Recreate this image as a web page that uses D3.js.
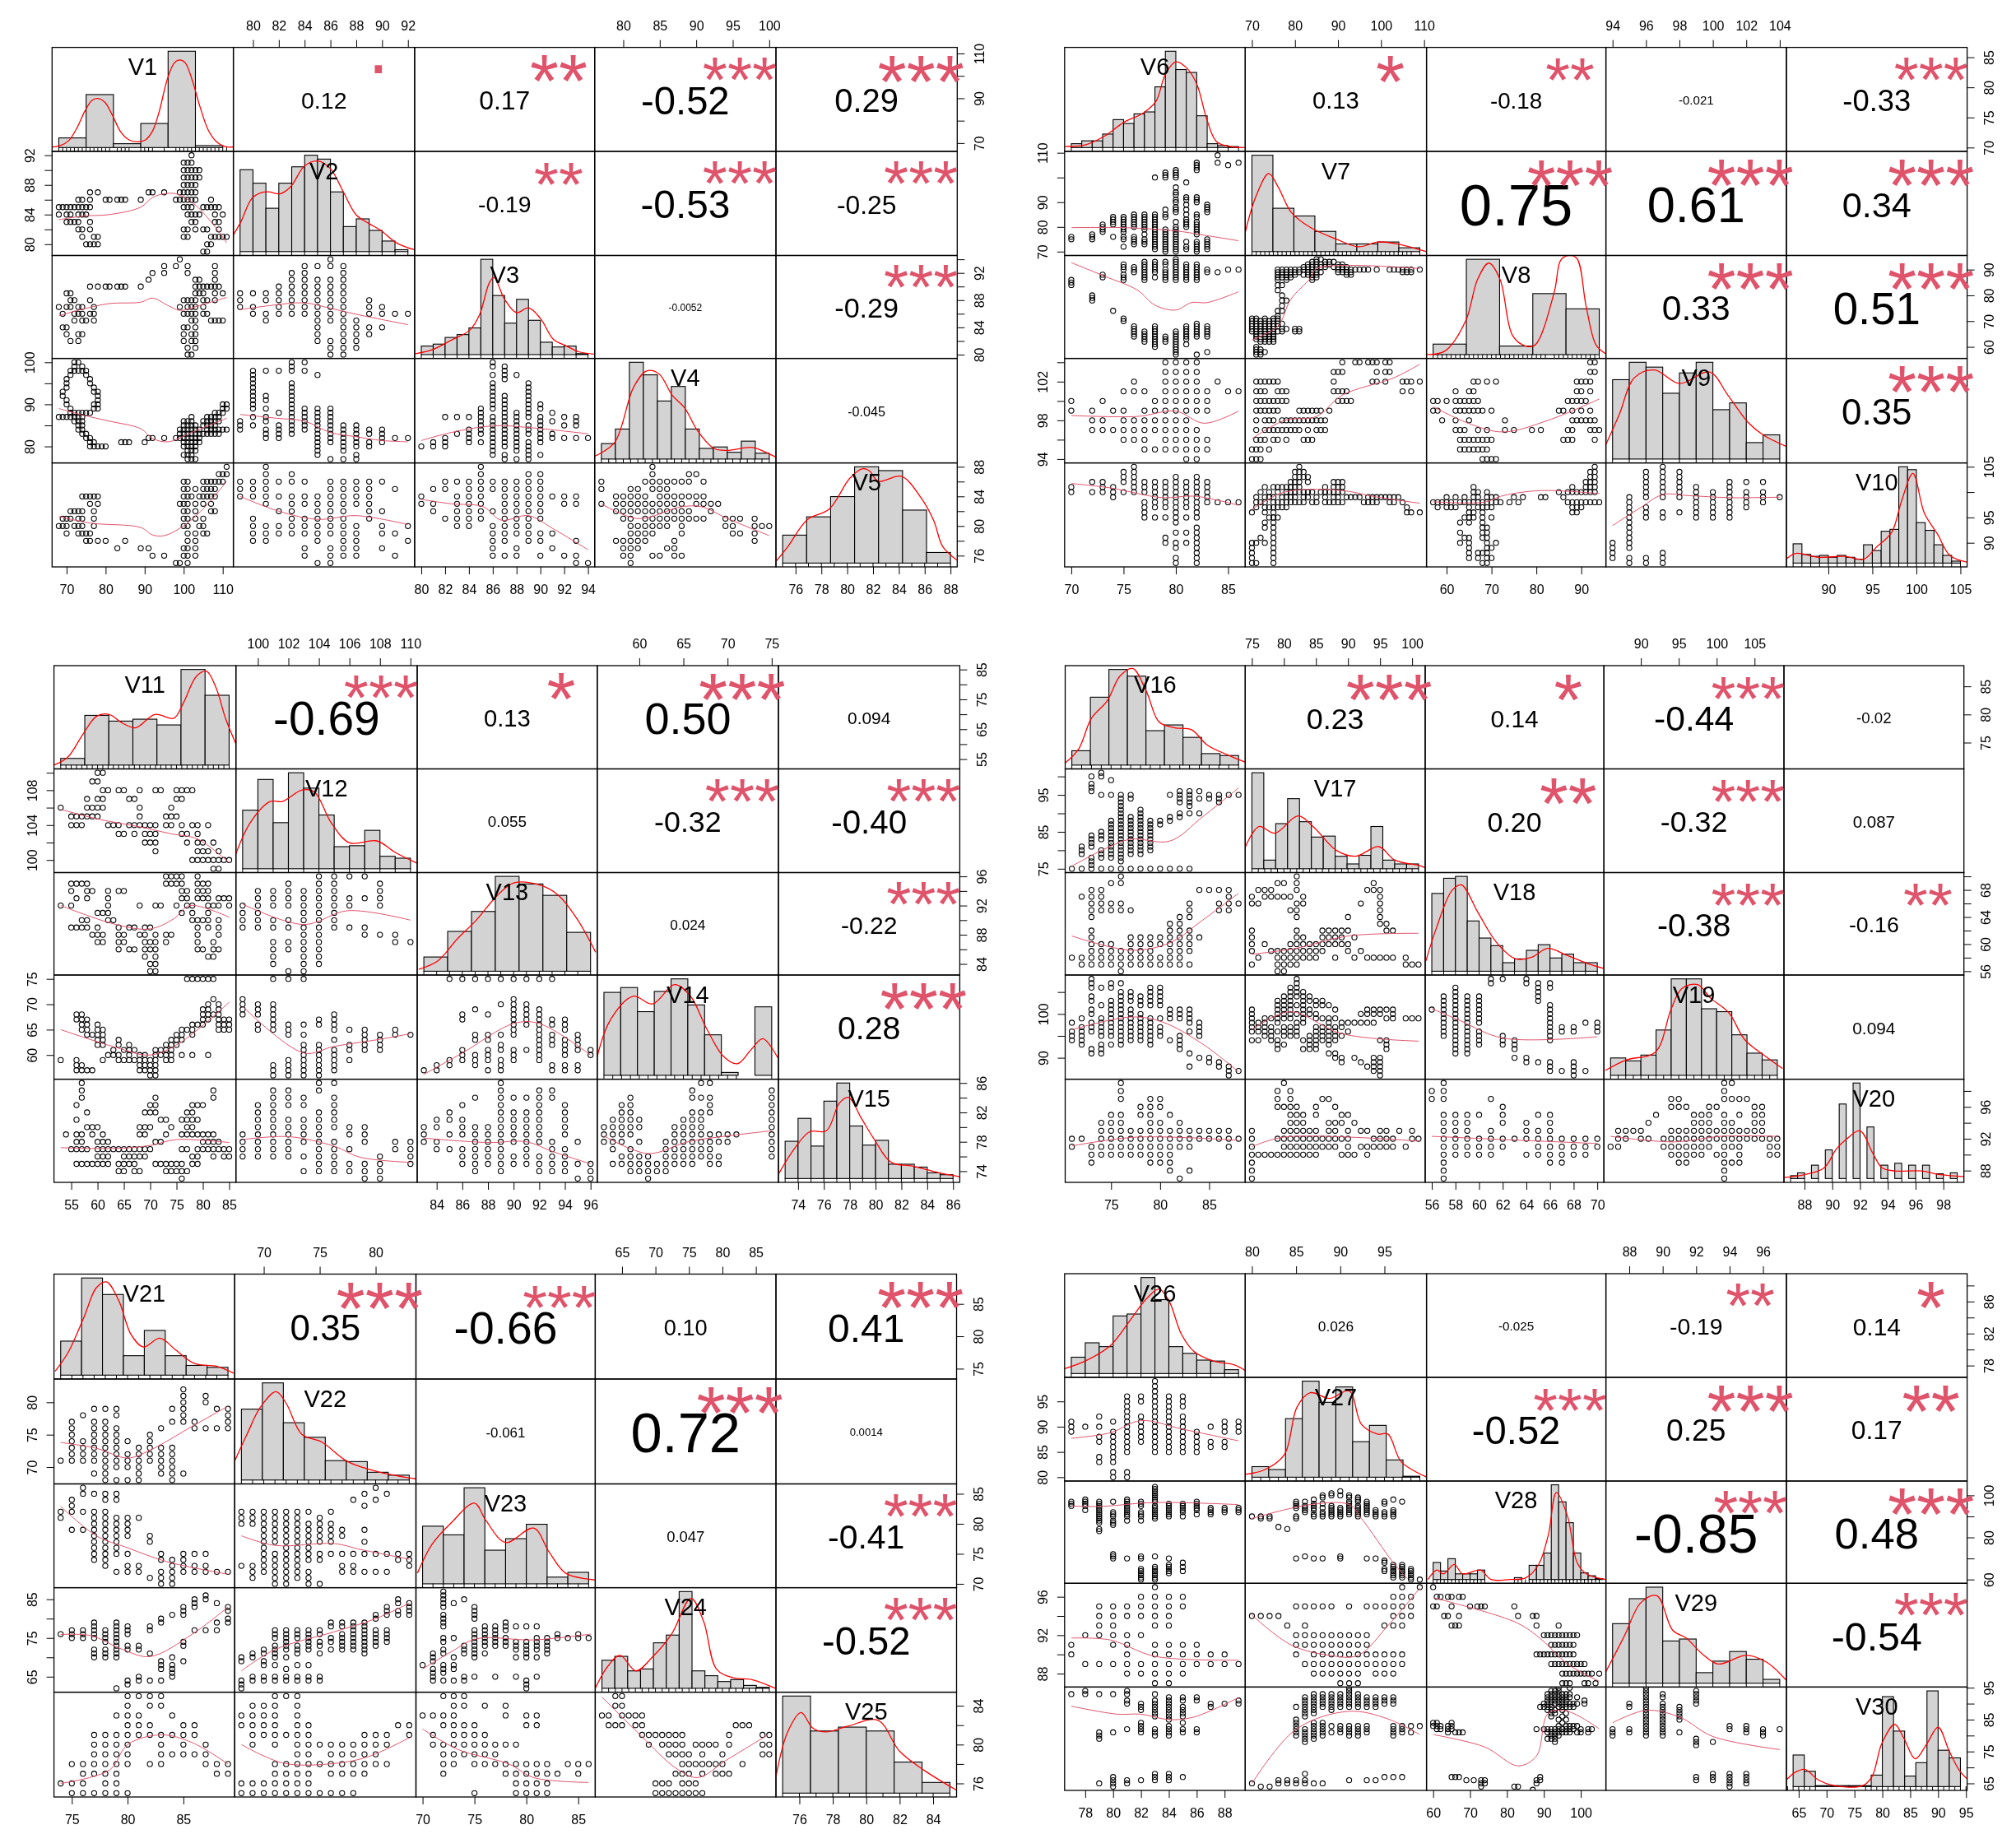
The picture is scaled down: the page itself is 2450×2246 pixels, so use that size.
<!DOCTYPE html>
<html><head><meta charset="utf-8">
<script src="https://cdnjs.cloudflare.com/ajax/libs/d3/7.8.5/d3.min.js"></script>
<style>html,body{margin:0;background:#fff}svg{display:block;filter:blur(.4px)}text{font-family:"Liberation Sans",Arial,sans-serif;fill:#000}</style>
</head><body><svg id="c" width="2450" height="2246"></svg>
<script>
function R(a){const o=[];a.forEach(r=>r.slice(1).forEach(x=>o.push([x,r[0]])));return o}
function C(a){const o=[];a.forEach(r=>r.slice(1).forEach(y=>o.push([r[0],y])));return o}
var panelXs=[[63.3,283.6,503.9,722.7,943,1163.3],[1293.8,1513.3,1733.6,1951.6,2171,2390.6],[65.6,286.7,507,725.8,946,1166.4],[1294.5,1513.3,1732,1949.2,2168,2386.7],[65.6,285.2,505.5,723.4,943,1162.5],[1293.8,1513.3,1733.6,1951.6,2171,2390.6]];
var panelYs=[[57.6,184,310.5,435.6,562.6,689],[57.6,184,310.5,435.6,562.6,689],[809,934.5,1060.5,1185,1311.6,1437],[809,934.5,1060.5,1185,1311.6,1437],[1548.5,1676,1803.5,1929.6,2056.6,2184],[1548,1674,1800,1924.3,2050.4,2176]];
var rangesV=[[68,111],[79,92],[80,94],[77,100],[75,88],[70,86],[70,109],[57,94],[94,104],[86,105],[53,85],[99,110],[83,96],[56,75],[73,86],[71,88],[75,101],[56,70],[86,108],[87,99],[74,89],[68,83],[70,86],[62,87],[75,85],[77,89],[80,99],[60,105],[87,97],[64,94]];
var ticksV1=[70,80,90,100,110],labelsV1=[70,90,110],ticksV2=[80,82,84,86,88,90,92],labelsV2=[80,84,88,92],ticksV3=[80,82,84,86,88,90,92,94],labelsV3=[80,84,88,92],ticksV4=[80,85,90,95,100],labelsV4=[80,90,100],ticksV5=[76,78,80,82,84,86,88],labelsV5=[76,80,84,88];
var ticksV6=[70,75,80,85],labelsV6=[70,75,80,85],ticksV7=[70,80,90,100,110],labelsV7=[70,80,90,110],ticksV8=[60,70,80,90],labelsV8=[60,70,80,90],ticksV9=[94,96,98,100,102,104],labelsV9=[94,98,102],ticksV10=[90,95,100,105],labelsV10=[90,95,105];
var ticksV11=[55,60,65,70,75,80,85],labelsV11=[55,65,75,85],ticksV12=[100,102,104,106,108,110],labelsV12=[100,104,108],ticksV13=[84,86,88,90,92,94,96],labelsV13=[84,88,92,96],ticksV14=[60,65,70,75],labelsV14=[60,65,70,75],ticksV15=[74,76,78,80,82,84,86],labelsV15=[74,78,82,86];
var ticksV16=[75,80,85],labelsV16=[75,80,85],ticksV17=[75,80,85,90,95,100],labelsV17=[75,85,95],ticksV18=[56,58,60,62,64,66,68,70],labelsV18=[56,60,64,68],ticksV19=[90,95,100,105],labelsV19=[90,100],ticksV20=[88,90,92,94,96,98],labelsV20=[88,92,96];
var ticksV21=[75,80,85],labelsV21=[75,80,85],ticksV22=[70,75,80],labelsV22=[70,75,80],ticksV23=[70,75,80,85],labelsV23=[70,75,80,85],ticksV24=[65,70,75,80,85],labelsV24=[65,75,85],ticksV25=[76,78,80,82,84],labelsV25=[76,80,84];
var ticksV26=[78,80,82,84,86,88],labelsV26=[78,82,86],ticksV27=[80,85,90,95],labelsV27=[80,85,90,95],ticksV28=[60,70,80,90,100],labelsV28=[60,80,100],ticksV29=[88,90,92,94,96],labelsV29=[88,92,96],ticksV30=[65,70,75,80,85,90,95],labelsV30=[65,75,85,95];
var histStart=[68,79,80,77,75,70,70,57,94,86,53,99,83,56,73,71,75,56,86,87,74,68,70,62,75,77,80,60,87,64];
var histStep=[7,1,1,1.917,1.857,1,4.875,7.4,1,1,4.57,1,1.857,1.9,1,1.889,1.857,1,2,.5,1.875,1.875,2,1.923,1.667,1,1.9,2,1,2];
var histV1=[10,55,4,25,100,2],histV2=[85,71,45,71,88,100,96,62,26,34,22,11,2],histV3=[9,11,18,21,28,100,62,33,58,36,13,8,9,1],histV4=[16,31,100,87,60,75,31,11,12.5,7,18.5,6],histV5=[29,48,69,100,96,55,11];
var histV6=[4,7,7,14,29,25,35,37,63,100,81,78,33,4,2,1],histV7=[100,45,37,21,8,8,10,4],histV8=[11,100,9,64,48],histV9=[82,100,95,68,89,100,51,58,17,25],histV10=[20,9,7,8,6,8,6,4,19,13,33,35,100,97,42,34,19,8,2];
var histV11=[7,52,46,48,42,100,73],histV12=[61,93,48,100,84,56,23,24,40,13,11],histV13=[15,42,63,100,92,80,41],histV14=[86,91,66,87,100,73,42,3,0,71],histV15=[39,63,34,81,100,55,35,40,15,15,12,6,4];
var histV16=[15,71,100,93,36,42,29,12,10],histV17=[100,9,47,73,49,33,34,13,5,14,44,9,5,5],histV18=[82,98,100,53,35,27,9,13,22,28,14,18,9,9],histV19=[18,15,21,47,100,100,69,66,42,23,16],histV20=[3,6,0,14,0,30,0,78,0,100,0,54,0,14,0,16,0,14,0,14,0,5,0,6];
var histV21=[35,100,83,20,46,20,10,8],histV22=[73,100,59,44,20,19,8,5],histV23=[60,51,100,35,47,62,7,12],histV24=[29,33,18,20,47,55,100,18,13,7,9,3,1],histV25=[100,64,68,64,32,11];
var histV26=[17,32,28,60,62,100,77,28,21,14,13,4],histV27=[11,8,61,100,78,94,37,54,18,1],histV28=[18,9,22,6,6,6,10,0,0,0,0,2,0,15,15,28,100,82,60,28,7,4,1],histV29=[62,88,100,44,46,11,23,33,25,4],histV30=[33,16,1,1,1,1,1,12,94,58,11,25,100,38,30];
var densV1=[[66.3,.5],[68.4,2],[70.5,7],[72.6,20],[74.7,38],[76.5,49],[78,51],[79.8,47],[81.8,33],[83.9,16],[86,8],[88,6],[90.2,8],[92,17],[93.7,37],[95.8,71],[97.6,88],[99,91],[100.4,88],[102.1,71],[104.2,42],[106.3,18],[108.4,6],[110.5,1],[112.7,.5]];
var densV2=[[78.47,17],[79.1,32],[79.9,55],[80.6,61],[81.2,62],[82.1,60],[82.9,67],[84,89],[85,94],[86,86],[87,62],[88,38],[89,29],[89.9,22],[91,10],[91.9,4.5],[92.5,2]];
var densV3=[[79.5,1],[80.9,5],[82.5,15],[84.1,26],[84.9,42],[85.7,75],[86.1,81],[87,58],[88,44],[89,49],[90,38],[91.1,16],[92.2,9],[93.2,3],[94.5,.5]];
var densV4=[[76.1,3],[78.8,17],[81.4,74],[83.2,91],[84.9,88],[86.7,66],[88.4,53],[90.2,29],[92.4,11],[94.2,9],[97.7,12],[99.5,7],[100.9,2]];
var densV5=[[74.5,2],[75.4,17],[76.9,45],[78.6,56],[80.2,88],[81.2,98],[81.7,96],[82.4,85],[84.2,90],[85.7,68],[86.7,44],[87.4,17],[88.5,3]];
var densV6=[[69.4,1],[71.4,3],[73.2,12],[75,26],[76.9,36],[78.1,48],[79,76],[80,89],[81.1,82],[82,66],[83,28],[83.9,6],[85.2,1],[86.6,0]];
var densV7=[[68.5,21],[70.9,57],[73.9,81],[76.1,67],[79.1,41],[83.6,25],[89.6,13],[94.8,5],[99.3,10],[103.7,8],[110.5,0]];
var densV8=[[55.6,0],[59.7,4],[64.3,36],[66.9,79],[69.4,96],[71.9,79],[74.7,20],[77.6,9],[79.7,10],[84,66],[85.4,99],[87.1,104],[89,101],[91.1,50],[93.3,10],[95.4,1]];
var densV9=[[93.6,15],[94.4,46],[95.3,84],[96.5,92],[98,78],[99.8,90],[100.9,66],[102.1,38],[103,25],[104.4,13]];
var densV10=[[85.2,4],[86.3,10],[88.8,6],[91.8,7],[94,4],[95.4,16],[97.2,32],[98.3,64],[99.6,93],[100.9,52],[102.4,30],[103.8,8],[105.7,1]];
var densV11=[[51.7,0],[54.3,8],[57.3,33],[59.8,51],[62.2,53],[64.7,44],[67.2,39],[70.9,53],[74.5,49],[76.3,65],[78.8,93],[80.7,98],[82.5,81],[84.3,49],[86.3,22]];
var densV12=[[98.5,13],[99.5,48],[100.8,70],[101.6,70],[102.9,82],[103.7,80],[104.8,48],[106,27],[107.8,29],[109,17],[110.4,6]];
var densV13=[[82.6,2],[84.1,11],[85.6,34],[87.1,54],[88.6,78],[90,93],[92,91],[93.5,80],[95,54],[96.4,20]];
var densV14=[[55.2,18],[56.7,57],[59.3,82],[61.5,74],[64,94],[65.8,82],[67.6,49],[69.5,20],[71.1,12],[72.7,27],[74,38],[75.7,18]];
var densV15=[[72.5,5],[73.7,31],[74.9,49],[76.2,50],[77.2,79],[77.9,85],[78.9,63],[79.9,41],[81.2,17],[82.9,13],[84.9,6],[86.5,2]];
var densV16=[[70.3,2],[71.7,17],[73,49],[74.6,67],[75.9,93],[77.2,101],[78.6,77],[79.9,45],[81.5,39],[83.2,37],[84.8,21],[86.8,11],[88.7,3]];
var densV17=[[74,23],[76.1,44],[78.6,37],[82.2,55],[84.7,43],[88.2,19],[91.2,13],[94.8,23],[97.3,9],[101.3,3],[102,1]];
var densV18=[[55.5,11],[56.4,46],[57.7,85],[58.5,91],[59.9,62],[61.5,30],[63.1,13],[64.5,15],[65.8,24],[67.4,17],[69,9],[70.5,3]];
var densV19=[[85.3,5],[88.1,16],[91.9,24],[94,69],[95.4,90],[97.5,94],[99.2,80],[101.6,65],[103.7,37],[106.4,20],[108.7,7]];
var densV20=[[86.5,1],[88,4],[89.4,11],[90.3,31],[91,41],[92,50],[92.9,27],[93.6,11],[94.5,8],[96.4,8],[97.8,4],[99.5,2]];
var densV21=[[73.5,4],[74.7,24],[76.1,60],[77.2,90],[78.1,96],[79.2,77],[80.3,42],[81.4,29],[82.9,38],[84.3,26],[86,12],[88,9],[89.5,2]];
var densV22=[[67.3,17],[68.5,47],[69.7,75],[71.1,91],[72,79],[73.4,47],[75.2,39],[77.5,19],[80.4,8],[83.7,1]];
var densV23=[[69.5,11],[70.9,41],[72.8,64],[75,84],[76.1,66],[78,43],[80.7,58],[82.2,33],[83.8,11],[86.6,4]];
var densV24=[[61,0],[62.8,22],[64.7,34],[67.1,18],[69.5,32],[72.4,56],[75.3,93],[77.2,69],[79.1,20],[81.5,11],[84.4,9],[87.9,0]];
var densV25=[[74.6,17],[75.3,63],[76.1,83],[76.8,67],[77.6,63],[78.9,69],[80.7,75],[82,43],[83.5,23],[85.4,3]];
var densV26=[[76.5,5],[78,13],[79.8,29],[81.2,55],[82.4,78],[83.3,88],[84,76],[84.9,41],[85.8,23],[87.2,13],[88.7,9],[89.5,3]];
var densV27=[[79.2,3],[81.5,8],[83.7,24],[85.1,73],[86.6,88],[88.8,82],[91,90],[92.4,55],[94.2,45],[95.4,45],[96.9,16],[99.8,0]];
var densV28=[[58.6,0],[61,10],[62.8,6],[65.7,16],[68,6],[72.8,10],[75.7,0],[80.9,0],[85.2,2],[88.6,16],[91.2,47],[93.4,92],[96.4,67],[99,18],[101.5,6],[106.7,0]];
var densV29=[[86.6,12],[87.7,49],[88.7,84],[89.65,91],[90.6,55],[91.4,47],[92.4,30],[93.3,20],[95,29],[96.2,22],[97.4,3]];
var densV30=[[62.8,7],[64.4,15],[66.1,18],[68.5,7],[71.3,1],[76.5,1],[78.2,11],[79.9,45],[82.2,65],[83.9,50],[85.9,29],[88,45],[90,62],[92,37],[93.8,17],[95.2,8]];
var corrPanel1=["0.12","0.17","-0.52","0.29","-0.19","-0.53","-0.25","-0.0052","-0.29","-0.045"],starsPanel1=[".","**","***","***","**","***","***","","***",""];
var corrPanel2=["0.13","-0.18","-0.021","-0.33","0.75","0.61","0.34","0.33","0.51","0.35"],starsPanel2=["*","**","","***","***","***","***","***","***","***"];
var corrPanel3=["-0.69","0.13","0.50","0.094","0.055","-0.32","-0.40","0.024","-0.22","0.28"],starsPanel3=["***","*","***","","","***","***","","***","***"];
var corrPanel4=["0.23","0.14","-0.44","-0.02","0.20","-0.32","0.087","-0.38","-0.16","0.094"],starsPanel4=["***","*","***","","**","***","","***","**",""];
var corrPanel5=["0.35","-0.66","0.10","0.41","-0.061","0.72","0.0014","0.047","-0.41","-0.52"],starsPanel5=["***","***","","***","","***","","","***","***"];
var corrPanel6=["0.026","-0.025","-0.19","0.14","-0.52","0.25","0.17","-0.85","0.48","-0.54"],starsPanel6=["","","**","*","***","***","**","***","***","***"];
// panel 1 scatter
var ptsV2V1=R([[92,102],[91,100,101,102],[90,100,101,102,103,104],[89,100,101,102,103,104],[88,100,101,102,103],[87,76,78,91,92,95,99,100,101,102,103],[86,73,74,76,80,81,83,84,85,89,98,99,100,101,102,103,107],[85,68,69,70,71,72,73,74,75,76,100,101,102,105,106,107,108,109],[84,68,70,71,73,74,75,101,102,103,104,108,110],[83,70,71,72,73,76,102,103,108,109],[82,73,74,76,100,101,103,105,106,109],[81,74,77,78,100,101,107,108,109,110,111],[80,75,76,77,78,106,107],[79,105,106]]);
var ptsV3V1=R([[94,99],[93,95,98,101,108],[92,92,95,101,108],[91,91,103,104,108],[90,76,78,80,81,83,84,85,89,103,104,105,106,107,108,109],[89,70,71,103,104,105,108,110],[88,71,72,76,100,101,102,103,105,106,108],[87,68,70,71,73,74,77,99,101,102,103,105],[86,69,72,73,74,76,77,100,101,102,103,105,106],[85,72,74,75,77,102,103,107,108,109,110],[84,69,70,100,101,103],[83,70,73,74,100,102,103],[82,71,73,100,102,103],[81,101,103],[80,101,102]]);
var ptsV4V1=R([[100,72,73],[99,72,74],[98,71,72,73,74,75],[97,71,75],[96,70,76],[95,70,76],[94,70,77],[93,69,77,78],[92,69,78],[91,70,78],[90,70,77,78,110,111],[89,71,77,78,110,111],[88,71,72,73,74,75,76,108,109,110],[87,68,69,70,71,72,73,74,102,106,107,108,109],[86,72,73,74,100,101,102,105,106,107,108,109],[85,73,74,100,101,102,103,105,106,107,108],[84,73,74,99,100,101,102,103,104,106,107,108,109,110,111],[83,74,75,99,100,101,102,103,104,105,106,107,108,109],[82,75,76,91,92,95,98,99,100,101,102,103,104],[81,76,77,84,85,86,90,100,101,102,103,104],[80,76,77,78,79,80,100,101,102,103],[79,101,102,103],[78,100,101,102],[77,101,102,103]]);
var ptsV5V1=R([[88,111],[87,109,110,111],[86,100,101,105,106,107,108,109,110],[85,100,101,103,105,106,107,108],[84,74,75,76,77,78,100,101,102,104,105,106,107,108],[83,76,78,99,100,101,103,105,107],[82,71,72,73,74,77,100,101,103,107,108],[81,69,70,71,73,74,77,100,101,103,105],[80,68,69,70,72,73,74,77,100,101,104,105],[79,70,73,74,75,76,101,103,105,106],[78,75,76,78,80,85,101,103],[77,83,89,91,100,101,103],[76,92,95,100,101,103],[75,98,99,101]]);
var ptsV3V2=R([[94,86],[93,84,85,86,87],[92,83,84,87],[91,83,84,85,86,87],[90,82,83,84,85,86,87],[89,79,80,81,82,83,84,85,86,87],[88,79,81,82,83,84,85,86,87,89],[87,79,80,82,83,84,85,86,87,89,90],[86,80,81,82,83,84,85,86,87,89,90,91,92],[85,81,85,86,87,88],[84,85,87,88,89,90],[83,85,87,88,89],[82,85,86,87,88],[81,86,87,88],[80,86,87]]);
var ptsV4V2=R([[100,83,84],[99,83],[98,80,81,82,83,84],[97,80,85],[96,80],[95,80,83],[94,80,83],[93,80,83],[92,80,81,83],[91,80,81,83],[90,80,83],[89,80,81,83,84,85,86],[88,82,83,84,85,86],[87,80,81,83,84,85,86],[86,79,81,83,84,85,86],[85,79,80,82,83,84,85,86,87,88],[84,79,81,82,83,84,85,86,87,88,89,90],[83,81,82,83,85,86,87,88,89,90],[82,81,82,85,86,87,88,90,91,92],[81,85,86,87,88,89,90],[80,85,87,88,89],[79,85,87],[78,85,88],[77,86,87,88]]);
var ptsV5V2=R([[88,81],[87,81,83],[86,79,80,81,82,83,84,86,87,88,89,90],[85,79,80,81,86,87,88,89,91],[84,79,80,81,82,83,84,85,86,87,88,89],[83,81,83,84,85,86,87,88,89],[82,82,83,85,86,87,89,90],[81,80,83,84,85,86,87,89],[80,80,81,82,83,84,85,86,87,88,90,92],[79,80,81,82,83,84,85,86,87,88,90,91],[78,80,81,85,87,88,92],[77,84,86,87,88,90],[76,84,86,87,88,91],[75,85,86]]);
var ptsV4V3=R([[100,86],[99,86,87],[98,87],[97,86,87,88],[96,87],[95,86,89],[94,86,89],[93,86,89],[92,86,87,89],[91,86,87,89],[90,86,87,89,90],[89,85,86,87,89,90],[88,85,87,88,89,91],[87,82,83,84,85,86,87,88,89,90,92,93],[86,85,86,87,88,90,91,93],[85,85,86,87,88,89,90,92,93],[84,84,85,86,87,88,89,90],[83,83,84,85,86,87,88,89,90,91],[82,82,84,86,87,88,90,91,92,93,94],[81,81,82,84,85,86,87,88,89,90],[80,80,81,82,86,87,88,89],[79,86,88,89],[78,86,87,89,90],[77,87,88,89]]);
var ptsV5V3=R([[88,85],[87,85,89,90],[86,82,83,84,85,86,87,88,89,90],[85,81,82,84,85,86,87,88,89,90],[84,80,83,84,85,87,88,89,90,91,92,93],[83,80,81,83,84,85,87,88,89,90,92,93],[82,81,83,84,85,86,87,88,89,90],[81,82,83,84,85,87,88,89,90],[80,83,84,86,87,88,89],[79,86,87,88,89,90,91],[78,86,87,89,90,93],[77,86,88,91],[76,86,87,88,90,92,93],[75,93,94]]);
var ptsV5V4=R([[88,84],[87,84,89,90],[86,77,83,84,85,86,87,88,89,91],[85,77,81,82,84,85,86],[84,79,80,81,82,83,85,86,87,88,89,90,91],[83,77,79,80,81,82,83,84,85,86,87,88,90,91,92,93],[82,79,80,81,82,83,84,85,86,87,88,89,92],[81,80,81,83,84,85,86,87,88,89,90,91,94,95,96,98],[80,81,82,83,84,85,86,88,94,95,98,99,100],[79,81,82,83,84,88,95,96,98],[78,79,80,81,82,83,87,98],[77,80,81,82,86,87],[76,80,81,84,85,87,88],[75,81]]);
// panel 2 scatter
var ptsV7V6=C([[70,75,76],[72,75,76,77],[73,78,79,80,81],[74,76,81,82,83,84],[75,72,75,76,78,79,80,81,82,83,84],[76,73,74,75,76,80,81,82,83,84,85],[77,73,74,75,77,79,80,81,82,83,84,85],[78,71,72,73,74,75,76,77,78,79,80,81,82,83,84,85,100],[79,70,71,72,73,74,75,76,77,78,79,84,85,87,100,101,102],[80,70,71,72,73,74,75,76,77,78,79,80,82,86,87,88,90,91,93,94,96,100,101,102,103],[81,71,72,74,80,81,82,83,85,87,89,91,92,98],[82,70,71,72,73,74,77,78,79,80,81,82,84,85,90,91,92,103,104,105,106],[83,71,72,73,74,75,86,87,88,89],[84,109,106],[85,105],[86,106]]);
var ptsV8V6=C([[70,84,85,86],[72,78,79,80],[73,87,88],[74,74],[75,70,71,86,87,88,90,91,92],[76,64,65,66,67,68,89,90,91],[77,62,63,64,65,66,86,87,88,89,90,91,92,93],[78,60,61,62,63,64,65,66,67,68,87,89,90,91,92,93],[79,62,63,64,86,87,88,89,90,92,93],[80,57,58,59,60,61,62,63,64,65,66,86,87,88,89,90,91,92,93,94],[81,61,63,64,65,66,67,68,86,87,88,89,90,91,92],[82,57,64,65,66,67,68,69,86,87,88,89,90,91,92],[83,58,64,65,66,67,68,89,90],[84,89],[85,90],[86,90]]);
var ptsV9V6=R([[104,79,80,81,82],[103,79,80,81,82],[102,76,79,80,81,82,84],[101,75,76,77,79,80,81,82,83,85,86],[100,70,73,78,79,80,81,82,83],[99,70,72,74,75,77,78,79,80,81,82,83],[98,72,73,75,76,77,78,79,80,81],[97,72,73,74,75,76,77,78,79,80,81,82],[96,75,76,77,79,80,81,82,83],[95,77,78,79,80,81,82,83],[94,81,82]]);
var ptsV10V6=C([[70,100,101],[72,100,102],[73,100,101,102],[74,99,100,101],[75,100,102,103,104],[76,100,101,102,103,104,105],[77,95,96,97,98,100,101,102],[78,95,97,98,99,100,101,102],[79,90,91,95,97,98,99,100,101,102],[80,86,87,89,90,92,94,95,96,97,98,99,100,101,102,103],[81,90,92,95,97,98,99,100,101,102],[82,86,87,88,89,90,91,92,93,95,96,97,98,99,100,101,102,103],[83,98,99,100,101,102],[84,98],[85,98],[86,98]]);
var ptsV8V7=R([[94,85,86],[93,84,85,87,88,89],[92,83,84,85,86,87,88,90,91],[91,82,83,84,85,86,87,89,90,91,92],[90,76,77,78,79,80,81,82,83,84,85,90,91,92,93,94,95,96,97,99,102,103,104,105,106,107,109],[89,76,77,78,79,80,81,83,84,85,86,90,91,92,93,105,106,107],[88,76,77,78,79,80,82,83,84,85,92,93],[87,76,77,78,79,84,85],[86,76,78,84],[84,76,77],[82,76],[80,77],[78,77,78],[76,77],[74,76,77],[72,76],[71,70,71,73,75,76],[70,70,71,72,73,74,75,76],[69,70,71,72,73,74,75,76,77],[68,70,71,72,73,74,75,76],[67,70,71,72,73,74,75,77,78,80,81],[66,70,71,72,73,74,75,76,77,80,81],[65,71,72,73,74,75],[64,71,73,74,75],[63,71,72,73,74,75],[62,72,73,74,75],[60,71],[59,71,72],[58,71,72,73],[57,71,72]]);
var ptsV9V7=R([[104,91,94,95,97,98,99,101,102],[103,89,90,91,99,101,102],[102,71,72,73,74,75,76,89,98,99,101,105,106,107,109],[101,71,72,73,76,77,78,89,90,91,92,105,107],[100,71,72,73,74,75,76,77,78,90,91,92,93],[99,71,72,73,74,75,76,81,82,83,84,85,86,88],[98,71,73,74,75,77,78,79,80,81,82,83,84,85,86,87],[97,71,73,74,75,76,77,78,79,80,81,83,85,86,87],[96,71,72,73,75,76,78,82,83,84],[95,70,71,72,74],[94,70,71,72]]);
var ptsV10V7=R([[105,81],[104,80,81,82],[103,80,81,82,83],[102,79,80,81,83,89,90,91],[101,73,75,76,77,78,79,80,81,87,89,90,91],[100,72,74,76,78,79,80,81,82,83,84,86,87,88,89,90,91],[99,71,73,74,75,77,78,79,80,82,83,85,87,89,90,92,93,94,95,97,98,99,100,101,102,103,104],[98,71,72,73,75,76,77,78,79,80,81,82,84,85,87,88,89,90,91,96,97,98,99,102,103,105],[97,71,73,74,75,76,77,78,106],[96,70,73,75,106,107,109],[95,74,75,76],[94,73,75],[93,73,75],[92,75],[91,72,75],[90,70,71,73,75],[89,70,75],[88,70,75],[87,70,75],[86,70,71,75]]);
var ptsV9V8=R([[104,92,93],[103,92,93],[102,66,67,69,71,89,90,91,92],[101,62,65,66,89,90,92],[100,57,58,60,62,63,64,65,66,67,87,88,89,90,91],[99,57,58,62,63,64,65,66,67,68,70,85,86,88,90,92],[98,59,62,65,73,88,89,90,91,92,93],[97,62,63,64,67,69,73,75,79,81,87,88,92,93,94],[96,63,64,65,66,67,68,69,70,86,87,88,93],[95,63,64,65,66,67,68,69],[94,68,69,70,71]]);
var ptsV10V8=R([[105,93],[104,92,93],[103,92,93],[102,91,92,93],[101,66,88,91,92,93],[100,66,67,69,85,87,88,89,90,91,92,93],[99,60,62,64,66,67,69,70,71,75,77,81,82,86],[98,57,58,59,60,61,63,64,65,66,67,68,69,70,71,72,74,76,87,88,89,90,91,92,93,94],[97,58,60,61,62,65,67,68,69,70,88,89,90],[96,65,66,68,88,89],[95,64,65,66,68,70],[94,63,65,68],[93,68,69],[92,63,68,69],[91,64,65,68,69],[90,63,65,69,71],[89,65,69,70],[88,65,67,68,69],[87,65,67,69,70],[86,68,69]]);
var ptsV10V9=C([[94,87,88,89,90],[95,86,87,89,90,91,92,93,94,95,96,97,98,99],[96,86,87,95,96,97,99,100,101,102,103,104],[97,86,87,88,95,96,99,100,101,102,103,104,105],[98,96,99,100,101,102,103,104],[99,95,96,97,98,99,100,101],[100,95,96,97,98,99,100],[101,95,96,97,98,99,100,101,102],[102,97,98,99,100,102],[103,98,99,100,102],[104,99]]);
// panel 3 scatter
var ptsV12V11=R([[110,60,61],[109,59,60],[108,61,62,64,65,68,71,72,75,76,77,78],[107,58,60,61,66,67,75,76],[106,53,58,59,60,61,68,74],[105,55,56,57,58,59,60,68,73,74,75],[104,55,56,57,62,63,64,66,67,68,69,70,71,73,74,76,78,79,81],[103,64,65,67,69,70,71,76,77,79],[102,69,70,71,77,79,80,82],[101,71,79,80,81,83],[100,78,79,80,81,82,83,84,85],[99,82,83]]);
var ptsV13V11=R([[96,73,74,75,76,79],[95,55,56,57,58,73,74,75,76,79,80,81],[94,55,58,59,62,64,65,76,77,79,80,81],[93,56,58,62,76,77,79,80,81,83,84,85],[92,53,55,62,68,71,72,75,77,78,81,82,83,85],[91,60,61,62,76,78,81],[90,57,58,62,63,78,79,80,81,83],[89,55,56,57,58,60,64,66,67,69,70,79,81,83],[88,59,60,61,64,65,68,69,71,73,74,79,83],[87,60,61,64,65,69,70,71,73,79,82],[86,64,66,67,69,70,71,79,80,82,83],[85,69,71,81,82],[84,70,71],[83,70,71]]);
var ptsV14V11=R([[75,77,78,79,80,81,82],[71,82],[70,81,83],[69,80,81,83],[68,56,57,80,81,82,83],[67,56,57,58,80,81,83,84,85],[66,57,58,60,78,79,80,83,84,85],[65,57,58,60,61,76,77,78,83,84,85],[64,58,59,60,61,75,76,78],[63,60,61,64,74,75,76],[62,60,61,64,66,73,74,75],[61,63,65,66,67,71,72,73,74],[60,62,63,64,66,68,69,71,72,73,74,76,78,81],[59,53,56,61,64,65,66,67,68,69,70,71,73,74],[58,56,57,68,69,70,71],[57,56,57,58,59,68,69,70,71],[56,70,71]]);
var ptsV15V11=R([[86,57],[85,57,82],[84,57,71,82],[83,56,70,71,78,79,80],[82,58,69,70,71,77,78],[81,56,72,73,76,77,78,79],[80,58,59,60,68,69,70,74,77,78],[79,54,56,57,59,61,68,69,73,76,77,78,79,80,81,82],[78,56,57,60,61,62,71,72,80,81,82,83],[77,55,56,57,58,60,61,62,63,64,65,66,67,68,69,70,76,77,79,80,81,82,83,84,85],[76,60,61,62,65,66,67,68,69,78,79,82,84,85],[75,56,57,58,59,60,61,62,64,65,66,67,71,72,73,74,75,76,78,79],[74,64,65,67,68,73,74,75,76,77],[73,76]]);
var ptsV13V12=C([[99,92,91,90,89],[100,94,93,92,91,90,89],[101,94,93,92,90,89,87,86,85,84],[102,95,94,93,92,90,89,87,86,83],[103,94,93,92,91,90,89,88,87,86,85,84,83],[104,96,95,94,93,92,91,90,89,88,87,86,85,84],[105,96,95,94,93,92,91,90,89],[106,96,93,92,89],[107,96,93,89,88],[108,95,94,93,92,88],[109,88,87],[110,87]]);
var ptsV14V12=C([[99,71,70,69,68],[100,70,69,68,66,65],[101,75,70,69,68,67,66,65,58,57,56],[102,75,66,65,64,59,58,57,56],[103,75,66,64,62,61,60,59,58,57,56],[104,67,66,62,61,60,59,58,57,56],[105,68,67,66,65,63,61,60,59,58,57],[106,65,62,61,59],[107,65,64,63,62,61],[108,64,63,62,61],[109,65,64],[110,64]]);
var ptsV15V12=C([[99,79,78,77,76],[100,83,82,81,80,79,78,77,76],[101,85,84,83,82,81,80,79,78,77,76],[102,85,84,83,81,80,79,78,77,76],[103,84,83,81,80,79,78,76,74],[104,86,85,82,81,80,79,78,77,76,75,74],[105,86,84,83,82,81,80,78,77,76,75,74],[106,80,79,77,75,74],[107,80,79,78,75,74,73],[108,76,75,74,73],[109,78,77],[110,78,77,76,75]]);
var ptsV14V13=C([[83,57],[84,57,58],[85,75,59,58],[86,75,61,60,59,67,68],[87,75,69,63,64,60,59,58],[88,75,68,64,63,61,60,59,57],[89,75,70,64,62,61,59,58,57],[90,75,71,70,69,68,67,66,65,64,61,60,59],[91,75,70,69,68,67,66,61],[92,75,69,68,67,66,65,64,63,62,61,60,59],[93,75,67,66,64,63,62,58,57],[94,67,66,65,63,62,61,60,58,57],[95,64,63,62,61,58,57],[96,61,60]]);
var ptsV15V13=C([[83,80,79,78],[84,81,80,78,77],[85,82,81,79,77],[86,83,81,80,79,77,76,75],[87,84,80,79,78,77,76,75,74],[88,80,79,78,77,76,75],[89,86,85,84,83,82,81,80,79,78,77,76,75,74],[90,84,82,81,80,79,78,76,75],[91,84,82,81,80,79,78,77,76,75],[92,85,84,83,82,81,80,79,78,76,75,74],[93,85,84,78,77,76,75,74],[94,83,82,81,80,79,77,76,75,74],[95,78,75,73],[96,75,74,73]]);
var ptsV15V14=R([[86,67,68],[85,66,75],[84,59,66,67,68,75],[83,58,59,68,75],[82,58,59,66,67,68,75],[81,57,58,59,60,65,66,67,75],[80,56,57,58,59,60,64,65,66,67,75],[79,56,57,58,59,64,65,66,67,68,69,70,71,75],[78,56,57,58,60,63,64,65,66,67,68,69,70,75],[77,57,59,63,64,65,66,67,68,75],[76,58,59,60,61,63,64,65,66,67,68,69,75],[75,57,58,59,60,61,62,63,64,65,66,68,69],[74,59,60,61,62,63],[73,61]]);
// panel 4 scatter
var ptsV17V16=C([[71,75],[72,75,79,80,81],[73,75,76,77,78,81,82,83,84,96,97,98,100],[74,75,78,79,80,83,84,85,95,100,101],[75,75,78,79,80,81,82,83,84,85,86,87,88,95,99],[76,75,77,78,79,80,81,82,83,84,85,86,87,88,89,90,91,92,93,94,95],[77,75,79,80,81,82,83,84,85,86,87,88,89,94,95],[78,75,79,80,81,82,83,84,85,86,87,88,89,90,91],[79,75,80,81,82,83,84,85,86,87,88],[80,75,87,88],[81,75,88,89,95],[82,75,89,90,93,94,95,96],[83,75,90,92,93,94,95,96],[84,90,94,96],[85,94,95],[86,93,94,95],[87,95],[88,95]]);
var ptsV18V16=R([[70,76],[69,75,76],[68,73,74,84,85,86,87],[67,72,73,74,87],[66,73,74,75,76,83,86,87,88],[65,73,74,75,76,77,83,86,87],[64,73,82,83],[63,81,82],[62,73,81,82,83],[61,73,77,78,79,80,81,82,83,84],[60,73,74,75,77,78,79,80,81,82,83],[59,73,74,75,76,77,78,79,81,82,83],[58,71,72,73,74,75,76,77,78,79,80,81,82],[57,72,73,74,75,76,77,78,79,80,81,82,83],[56,76]]);
var ptsV19V16=R([[108,73],[107,73,75,76],[106,73,74,75,79,80],[105,76,77,79,80],[104,73,76,77,78,79,80],[103,73,75,76,77,78,79,80],[102,74,75,76,78,79,80],[101,73,75,76,77,81,82,83],[100,73,75,76,77,78,81,82,83],[99,72,74,75,76,77,78,79,80,81,82,83],[98,71,73,74,75,76,77,78,79,83,84],[97,72,73,74,75,76,77,78,79,80,84],[96,71,72,73,74,75,76,77,78,79,80,83,84],[95,71,72,74,75,76,77,78,79,80,82,84],[94,71,72,76,77,78,79,81,82],[93,72,74,75,76,79,82],[92,73,74,82],[91,73,74,83],[90,84,85],[89,85,86],[88,83,86,87],[87,87,88],[86,87]]);
var ptsV20V16=R([[99,76],[98,76],[97,76,79,80],[96,78,79,80],[95,75,76,78,79,81],[94,74,75,76,79,80,82],[93,74,75,76,77,78,79,80,81,82,83,84,85,86,87],[92,71,72,74,75,76,77,78,79,80,81,82,83,84,85,86,87,88],[91,71,73,74,75,76,77,78,79,80,81,82,83,87],[90,73,74,75,76,77,78,79,80,81],[89,73,79,80,81],[88,81,83],[87,82]]);
var ptsV18V17=R([[70,82],[69,79,80,82,94],[68,76,77,78,82,93,94,95],[67,75,77,78,79,80,81,83,95],[66,75,76,82,83,92,95],[65,81,82,95],[64,82,90,95],[63,95,96],[62,75,82,86,87,88,89,90,96,97],[61,75,82,83,86,87,88,89,91],[60,75,77,81,82,83,84,85,86,87,88,89,90],[59,75,78,79,80,81,82,83,84,85,86,90,92],[58,76,79,80,81,82,83,84,85,88,91,93,94,95,96,97,99],[57,75,79,80,81,82,99,100,101],[56,79,80]]);
var ptsV19V17=R([[108,82],[107,82],[106,81,82],[105,81,82,83],[104,80,81,82,83,84],[103,79,80,81,83,84,85,86],[102,79,80,81,82,83,85,86,87],[101,75,79,80,81,83,84,88,93,94,95,96,97],[100,75,79,80,81,82,83,84,85,92,93,94,95,97],[99,75,77,78,79,80,81,83,85,86,87,88,96,97,99,100,101],[98,75,76,77,79,82,83,87,89,90,91,92,93,94],[97,75,76,77,78,80,81,82,85,86,87,88,89],[96,75,76,77,78,79,80,81,82,85,86,87,88,90],[95,77,78,80,81,82,84,85,86,87,88,89],[94,75,76,78,79,83,84,85,86,87,88,95,96],[93,79,80,84,85,87,96],[92,79,83,84,85,96],[91,87,88],[90,88,89,91,94,95],[89,89,92,94,95],[88,93,94,95],[87,94,95],[86,95]]);
var ptsV20V17=R([[99,80],[98,79,81],[97,79,81,86,87],[96,79,80,81,82,85,88],[95,81,82,83,85,89,90],[94,81,82,83,87,88,89,91],[93,75,80,81,82,83,84,85,87,88,90,92,93,95,96,98,100],[92,75,79,80,81,82,83,84,85,86,87,88,89,90,94,95,96,97,100,101],[91,75,80,81,82,83,84,85,86,87,88,90,92,93,94,95,96,97,99],[90,75,76,77,78,79,80,81,82,83,84,85,89,90,91,93],[89,75],[88,75],[87,75]]);
var ptsV19V18=C([[56,101],[57,95,96,97,98,99,100,101,102,103,104],[58,91,92,93,94,95,96,97,98,99,100,101,102,103,104,105,106],[59,91,92,93,94,95,96,97,98,99,100,101,102,103,104],[60,93,94,95,96,98,99,100,101,102,103,104],[61,107,108],[62,93,94,95,108],[63,90,92,93,94],[64,89,90,107,108],[65,89,103,104,105,106,107],[66,87,88,89,94,95,96,97,98,99,100,101,102,106,107],[67,87,96,97],[68,86,87,88,89,96,97],[69,87,98],[70,96,97,98]]);
var ptsV20V18=C([[56,98,97],[57,99,98,97,95,94,93,92,91,90,89,88,87],[58,95,94,93,92,91,90],[59,95,94,93,92,91,90],[60,95,92,91,90],[61,97,93,92,91,90],[62,96,95,94,92,91],[63,92],[64,94,93,92,90],[65,95,93,92,91,90],[66,95,94,93,92,91,90,89],[67,92,91,90,89],[68,92,91,90],[69,92,91,90],[70,92,91]]);
var ptsV20V19=R([[99,101,102],[98,101],[97,94,95,101,102,103,104],[96,94,95,96,99,100,105,106],[95,92,97,98,99,101,103,105,106],[94,91,97,98,99,101,102,105,106],[93,87,88,89,90,94,95,96,97,98,99,100,101,102,103,104,105,106],[92,87,88,90,91,93,94,95,96,97,98,99,100,101,102,103,104,105,106,107,108],[91,86,87,93,94,95,96,97,98,99,101,102,103,107,108],[90,94,95,96,97,98,100,101,103,107,108],[89,95,96,101,102,103],[88,101],[87,101]]);
// panel 5 scatter
var ptsV22V21=C([[74,71],[75,71,72,73,74,75,76,77],[76,71,72,73,74,78],[77,69,71,72,73,74,75,76,77,79],[78,68,69,70,71,72,73,74,75,76,77,79],[79,68,70,71,72,73,74,75,76,78,79],[80,68,70,71,72,74],[81,68,69,70,71,72,73],[82,71,72,73,74,75],[83,69,70,71,72,73,76],[84,68,69,70,71,72,73,77,79],[85,69,77,78,79,80,81,82],[86,76,77],[87,76,80,81],[88,76,79],[89,76,77,78,79]]);
var ptsV23V21=C([[74,81,82],[75,79,82,83,84],[76,79,82,85,86],[77,85,82,81,80,79,78,77,76,75,74],[78,85,84,82,81,80,79,78,77,76,75,74,73],[79,85,84,81,80,79,78,77,76,75,72],[80,81,80,79,78,75,73,72],[81,81,73,72],[82,78,77,71],[83,75,74,72,71,70],[84,74,73,72,71,70],[85,75,74,73,72],[86,75,73,72],[87,75,73,72],[88,72],[89,72]]);
var ptsV24V21=C([[74,76],[75,77,76,75],[76,77,76,75],[77,79,78,77,76,75,72,71,70],[78,77,76,75,74,72,71,70],[79,79,78,77,76,75,74,73,72,71,70,62],[80,78,77,76,73,72,64,63],[81,73,72,65,64],[82,78,77,71,64],[83,80,79,69,68,67,64],[84,81,70,68,67,66,65],[85,83,82,81,74,73,69],[86,85,84,83,77],[87,86,85,77],[88,84,79,77],[89,83,82,80,79]]);
var ptsV25V21=C([[74,76],[75,78,76,75],[76,78,77,76,75],[77,81,80,79,78,77,75],[78,81,80,79,78,77,76,75],[79,83,81,80,79,78,77,76,75],[80,85,84,83,82,81,80,79,78,75],[81,85,83,82,81],[82,85,84,82,81,78],[83,85,84,81,80,79,78],[84,83,81,79],[85,82,81,80,79],[86,82,81,79],[87,80,79,78],[88,78,77],[89,78,77]]);
var ptsV23V22=C([[68,82,81,80,73],[69,82,81,80,73,72,71],[70,82,81,80,79,78,77,76,75,74,73,72],[71,82,81,80,79,78,77,75,74,73,72,71,70],[72,82,81,80,79,78,77,76,75,74,73,72,71,70],[73,82,81,80,79,78,77,76,75,74,73,72,71],[74,82,80,79,78,77,76,75,74,72,71,70],[75,81,80,79,78,77,75,74,70],[76,82,80,79,78,77,75],[77,79,78,75,73,72],[78,84,75,73,72],[79,85,83,79,77,75,72],[80,86,84,75,72],[81,85,75,72],[82,75,74],[83,75,74,73]]);
var ptsV24V22=C([[68,70,69,64,63,62],[69,71,70,65,64],[70,72,71,69,68,65,64],[71,77,76,75,73,72,71,70,68,65,64],[72,77,76,75,74,73,72,70,67,65,64],[73,77,76,75,73,72,71,68,65,64],[74,77,76,75,74,73,72,68,65,64],[75,77,76,74,73,71,65,64],[76,79,78,75,74,72],[77,79,78,76,75,74,73,72],[78,79,78,77,76,75,74,73,72],[79,79,78,77,76,75,74,73,72,71],[80,81,80,77,76,75,74,73],[81,83,82,81,77,76,75,74],[82,85,84,82,81],[83,84,83,82,81]]);
var ptsV25V22=R([[85,71,72,73],[84,69,70,71,73],[83,68,69,70,71,73],[82,68,69,70,71,73,74,82,83],[81,69,70,71,72,73,74,79,80,81,83],[80,69,71,73,74,75,76,77,78,79,80,81],[79,73,74,76,77,78,79,80],[78,71,72,73,74,75,76,77,78,79,80,81],[77,71,72,73,74,76,77,78,79],[76,68,69,70,71,72,73,74],[75,68,69,70,71,72,73,74,75,76,77,78]]);
var ptsV24V23=C([[70,68],[71,71,70,69,67,66,65,64],[72,87,86,85,84,83,81,80,79,78,75,74,72,71,68,67,66,64],[73,84,75,70,68,67,64],[74,85,73,72,71,65,64],[75,83,82,81,80,77,76,75,74,73,72,71,70,65],[76,78,77,76,75,74,73,71],[77,78,77,76,75,74,73,65],[78,79,78,77,75,74,73],[79,78,74,73,72,70,65],[80,78,74,73,72,71,70,64,63,62],[81,78,75,74,73,72,70,65],[82,75,74,73,72,71],[83,76,75],[84,75],[85,76,75],[86,75]]);
var ptsV25V23=R([[85,72,73,74],[84,73,74,76,78],[83,70,71,72,73,78,80,81],[82,72,73,74,75,80,81],[81,71,73,74,75,76],[80,71,72,73,74,75,76,77,78,79],[79,72,73,74,75,76,77],[78,72,73,75,76,77,78,79,80,81,82,84,85,86],[77,72,78,79,80,81,82,83,85],[76,79,80,81,82],[75,75,79,80,81,82]]);
var ptsV25V24=R([[85,64,65],[84,64,65],[83,62,63,65,66,67,68],[82,63,64,65,67,68,82,83,84],[81,68,69,70,71,72,73,74,81,86,87],[80,69,71,72,73,74,76,77,78,79,81,86,87],[79,72,73,74,75,77,80,86,87],[78,74,75,76,77,78,79,80,83],[77,73,74,75,77,79,80,81],[76,70,71,72,74,75,76],[75,70,71,72,73,74,75,76,77]]);
// panel 6 scatter
var ptsV27V26=C([[77,91,90,89],[78,90],[79,92,90,88,87,84,83],[80,91,89,88,87,86,85,84,83,81,80],[81,96,95,94,93,92,91,90,89,88,87,86,85,81,80],[82,96,95,92,91,90,89,88,87],[83,99,98,97,96,95,94,93,92,91,90,89,88,87,86,85],[84,96,95,94,93,92,91,90,89,88,87,86,85],[85,96,95,94,92,91,90,89,88,87,86,85],[86,89,88,87,86,85],[87,90,87,86],[88,91,90,89,87,86],[89,91,90,89]]);
var ptsV28V26=C([[77,97,96,95],[78,98,97,96,95,93],[79,97,96,95,94,93,92,91,90,89,88,87,84,83],[80,97,92,91,90,88,87,86,72,71,70],[81,98,97,96,95,94,93,92,91,90,88,70],[82,97,96,95,92,91,90,88,71,70,65,64,63,62,61,60],[83,104,103,102,101,100,99,98,97,95,94,93,92,91,90,89,71,66,65,64,63,62,61,60],[84,96,95,94,93,92,91,90,70,67,66,65,64,63],[85,96,95,94,93,92,90,68,66,64],[86,97,96,95,94,93,91],[87,94,93,92,91],[88,94,93,92],[89,94,93,92]]);
var ptsV29V26=R([[97,83],[96,82,83,84,85],[95,79,80,81,82,83,84,85],[94,79,80,81,82,83,84],[93,79,80,83,84],[92,78,79,80,81,82],[91,77,80,81,83,84,85,86],[90,77,81,83,84,85,86,87,88],[89,78,79,80,81,82,83,84,85,86,87,88,89],[88,81,82,83,84,85],[87,83,84]]);
var ptsV30V26=C([[77,93],[78,94,93],[79,93,81,80,79,65],[80,93,81,67,66,65,64],[81,94,93,91,90,82,66,65],[82,90,89,88,84,83,82,81,66],[83,93,91,90,89,88,87,86,82,81,80,68,67,66],[84,92,91,90,89,88,87,86,85,83,82,81,80,68,67,66],[85,92,91,89,88,87,86,84,82,81,67],[86,92,91,82,81],[87,90,89],[88,90],[89,91,90]]);
var ptsV28V27=C([[80,90],[81,89,90],[82,89,90],[83,85],[84,84],[85,97,96,95,94,90,89,70],[86,97,95,94,93,92,71],[87,98,96,95,94,93,91,90,70],[88,100,99,96,94,92,91,90,70],[89,101,100,95,94,93,92,91,90],[90,102,100,94,93,92,91,90,71,70],[91,100,99,97,96,95,94,93,92,91],[92,99,98,97,95,94,93,92,91,90],[93,97,96,95,94,93,92,91,70],[94,93,92,91,90,70],[95,97,96,92,91,90,69,68,65,64],[96,98,93,92,91,90,67,66,65,64,63,62,61],[97,97,67,66,65,64,63,62,61],[98,65,64,63,62,61,60],[99,60]]);
var ptsV29V27=R([[97,97,99],[96,96,97,98],[95,85,86,87,88,89,91,93,94,95,96,97,98],[94,80,81,82,83,96,97,98],[93,84,86,95,96,97],[92,85,86,87,88,89,90,91,92,93],[91,85,86,87,88,89,90,91,92,93],[90,85,87,88,89,90,91,92,93,94,95,96,97],[89,86,87,88,89,90,91,92,93,94,95,96,97],[88,87,88,89,90,91,92,94,95,96],[87,90,91,92]]);
var ptsV30V27=R([[95,91],[94,91],[93,87,88,89,90,91,92],[92,86,87,88,89,90,91,92,93,94,95,96],[91,86,87,88,89,90,91,92,93,94,95,96],[90,86,87,88,89,90,91,92,93,94,95,96],[89,85,86,87,88,89,90,91,92,93,94],[88,86,87,89],[87,86,87],[86,86],[85,85],[84,85,87,88],[83,85,87,88,89,90,91,92,93,96,97,98,99],[82,85,86,87,88,90,91,92,93,96,97],[81,85,86,87,88,89,90,91,92,93,96,97,98],[80,85,86,87,88,91,92,96],[79,86,87],[78,86],[68,86],[67,95,96,97],[66,83,84,85,86,91,93,94],[65,80,83,84,85,86,87,88],[64,81,82]]);
var ptsV29V28=R([[97,60],[96,61,62,64,65,67,68],[95,60,61,65,70,72,73,74,82],[94,63,64,67,83,87,88],[93,65,66,67,88,94],[92,90,91,92,93,94,95,96,97,98,99],[91,92,93,94,95,96,97,98],[90,88,89,90,91,92,93,94,95,96,97,98],[89,92,93,94,95,96,97,98,99,100,101],[88,95,96,97,98,99,100,101,102,103,105],[87,95,96,97,101,102,104]]);
var ptsV30V28=C([[60,84,83],[61,84,83,82],[62,83,82],[64,83,82,81],[65,84,83,82,67],[66,81,67],[67,81,67],[68,81],[69,66],[71,66],[73,66,65,64],[74,66,65],[82,64],[83,64],[87,63],[88,82,66,65],[89,89,67,66],[90,90,89,82],[91,93,92,91,90,89,88,82,81,79],[92,94,93,92,91,90,89,88,87,86,82,81,80,79],[93,94,93,92,91,90,88,87,82,81,80,79,78],[94,95,94,93,92,91,90,89,85,83,82,81,80],[95,93,92,91,90,89,88,86,84,82,81],[96,93,92,91,90,89,87,85,83,82,81],[97,95,93,92,90,89,83,82,81],[98,90,89,83,82],[99,92,90,83,81],[100,82,81],[101,91,90],[102,82,81],[103,82]]);
var ptsV30V29=C([[87,82,81,80],[88,90,89,82,81],[89,95,94,93,92,91,90,89,88,87,86,85,84,83,82,81,80],[90,93,92,90,89,88,87,86,85,84,83,82,81,80],[91,89,88,87,86,85,81],[92,94,93,92,91,90,79,78,77,67,66],[93,78,68,67,66],[94,83,82,68,67,66,65,64],[95,83,82,81,68,67,66,65],[96,82,81,80],[97,82]]);
// smooth lines
var loessV2V1=[[68,83.3],[74.3,83.8],[81,84],[89,85],[92,86.3],[95,86.8],[98,86.8],[102.5,85.5],[107.5,82.7],[111,80.2]];
var loessV3V1=[[68,85.7],[74.3,86.7],[81,87.5],[89,87.7],[92,88.3],[96,87.2],[99,86.5],[104,87.2],[111,88.4]];
var loessV4V1=[[68,89],[74.3,87.4],[81,86],[89,84.2],[92,81.9],[96,81.1],[102,83.3],[111,86.7]];
var loessV5V1=[[68,81.3],[76,80.4],[89,79.8],[92,78.8],[95,78.7],[99,79.7],[104,81.8],[111,86]];
var loessV3V2=[[79,86.6],[81.3,87.2],[84,87.6],[86,86.8],[88.3,85.8],[92,84.4]];
var loessV4V2=[[79,87.6],[81.8,86.7],[84,86],[86,83.3],[88,82.3],[90,81.4],[92,81.1]];
var loessV5V2=[[79,84],[82,82],[85,80.9],[88,81.4],[92,80.2]];
var loessV4V3=[[80,81.4],[82.5,83.3],[86,84.9],[89,84.5],[94,83]];
var loessV5V3=[[80,83.6],[82.5,83],[85.2,82.6],[86.7,80.8],[89,81.4],[91,79.7],[94,76.8]];
var loessV5V4=[[77,83],[82,81],[88,82.6],[90.7,82.6],[94.3,81],[100,78.7]];
var loessV7V6=[[70,79.7],[75,79.7],[80,78.4],[82.5,76.8],[86,74.4]];
var loessV8V6=[[70,92.7],[73.2,87.4],[76.3,82.1],[78,76.2],[80,74.3],[81.5,77.2],[83,77.2],[86,81.4]];
var loessV9V6=[[70,98.5],[76.3,98.4],[80,98.95],[82.7,97.7],[86,98.95]];
var loessV10V6=[[70,101.7],[73.8,100.8],[78.7,98.9],[81.8,99.2],[86,97.4]];
var loessV8V7=[[70,62.7],[76,68],[79,78.4],[83.6,86.7],[85,90.4],[109,90.4]];
var loessV9V7=[[70,96.1],[77.6,98],[85,98.4],[91,100.6],[103,102.4],[109,103.8]];
var loessV10V7=[[70,96.6],[77.6,100],[91,100.3],[98.5,99.1],[109,97.8]];
var loessV9V8=[[57,99.4],[65.4,97.6],[72.6,96.8],[82.6,98],[94,100.2]];
var loessV10V8=[[57,98.1],[68.3,98],[72.6,99.3],[81,100.3],[94,99.7]];
var loessV10V9=[[94,93.4],[95.7,97],[97,99.5],[98.6,99.3],[101,98.9],[104,99]];
var loessV12V11=[[53,105.8],[60,104.7],[68,103.8],[74,103],[79,102.4],[85,99.7]];
var loessV13V11=[[53,92],[63.5,89.4],[70,88.8],[74.5,90.2],[77.5,92],[85,90.4]];
var loessV14V11=[[53,65],[63.5,61.5],[70,60],[75.5,62.3],[85,70.4]];
var loessV15V11=[[53,77.2],[63.5,77.1],[70,77.5],[75,78.3],[85,77.9]];
var loessV13V12=[[99,92.2],[103,89.4],[105.9,91.3],[110,90]];
var loessV14V12=[[99,69.6],[103,60.4],[105,61.7],[108,63.1],[110,64.2]];
var loessV15V12=[[99,78.3],[102,78.7],[105,77.4],[106.7,75.9],[110,75.2]];
var loessV14V13=[[83,56.2],[86,60.4],[90,66.2],[92,66.2],[96,60]];
var loessV15V13=[[83,78.5],[88,77.9],[91,78],[93,76.7],[96,75]];
var loessV15V14=[[56,78.8],[61,76.4],[65.5,78],[70,78.8],[75,79.5]];
var loessV17V16=[[71,75.7],[74.3,80.3],[77,83],[81,82.5],[84.3,89],[88,96.9]];
var loessV18V16=[[71,61.2],[77,59.1],[81,60.2],[84.3,63.5],[88,67.5]];
var loessV19V16=[[71,96.4],[77,99.3],[80.2,98.2],[84.3,93.2],[88,86.8]];
var loessV20V16=[[71,91.1],[77.6,92.2],[88,91.8]];
var loessV18V17=[[75,58.5],[82,59.4],[90,61.2],[101,61.6]];
var loessV19V17=[[75,96.4],[81,100.5],[89,95.5],[101,93.8]];
var loessV20V17=[[75,91],[80,92.2],[101,91.7]];
var loessV19V18=[[56,101.2],[58.3,98.6],[62,94.5],[70,94.8]];
var loessV20V18=[[56,92.3],[62,91.9],[70,91.4]];
var loessV20V19=[[86,92.3],[94.5,91.6],[100.5,92.3],[108,92.3]];
var loessV22V21=[[74,73.8],[77.2,72.9],[80,71.4],[82,72.6],[85.8,76.3],[89,79.4]];
var loessV23V21=[[74,82.9],[77.2,78],[80,76],[83.5,73.7],[89,71.6]];
var loessV24V21=[[74,75.9],[76.7,75.6],[79.5,72.1],[82,70.2],[85.8,76],[89,83]];
var loessV25V21=[[74,76],[78.4,77.4],[80,80],[83,81],[85.8,80.2],[89,78]];
var loessV23V22=[[68,78],[71,76.4],[76.3,76.7],[78.7,75.7],[83,74.1]];
var loessV24V22=[[68,66.5],[71,72],[76.3,76.6],[80,80],[83,84]];
var loessV25V22=[[68,80],[71.7,78.1],[75.8,78],[79.2,78.7],[83,80.7]];
var loessV24V23=[[70,67],[72.8,71.5],[75.2,74.8],[80.7,74.5],[86.2,76]];
var loessV25V23=[[70,81.6],[73.4,79.5],[78.3,78],[80.7,76.6],[86,76.1]];
var loessV25V24=[[62,84.9],[68,80.8],[73,77.6],[76.3,76.6],[80.6,78.4],[86.8,81]];
var loessV27V26=[[77,87.7],[79.8,88.8],[82,91.2],[85,89.5],[89,87.2]];
var loessV28V26=[[77,95],[79,94.7],[83,96.6],[89,95.6]];
var loessV29V26=[[77,91.7],[79.8,91.5],[83,89.8],[89,89.4]];
var loessV30V26=[[77,89.2],[80.3,86.7],[82,86.7],[84,85],[85.8,85.8],[89,91.9]];
var loessV28V27=[[80,89],[86.6,95.6],[91,95.6],[92.4,89],[96,68],[97.6,60.4]];
var loessV29V27=[[80,94.1],[84.4,91],[88.8,89.9],[92,89.9],[95.4,93],[99,96.9]];
var loessV30V27=[[80,65],[85,82],[91,87.6],[95.4,85.2],[99,80.3]];
var loessV29V28=[[60,95.9],[82.6,93.3],[89.5,91.5],[96.4,89],[105,87.2]];
var loessV30V28=[[60,80.3],[74,76.4],[83,70.5],[88,73.6],[91.2,87],[96.4,87.6],[105,82.1]];
var loessV30V29=[[87,84],[89,87.9],[91,85.8],[93,79.7],[97,75.6]];

const STAR="#DF536B",svg=d3.select("#c");
const measure=svg.append("text").attr("font-size",100).attr("opacity",0);
function textLen(t){measure.text(t);return measure.node().getComputedTextLength()}
let clipId=0;
function dom(v){const r=rangesV[v],p=(r[1]-r[0])*.04;return [r[0]-p,r[1]+p]}
panelXs.forEach((xs,p)=>{
  const ys=panelYs[p],first=p*5,g=svg.append("g"),over=[];
  const X=d3.range(5).map(i=>d3.scaleLinear(dom(first+i),[xs[i],xs[i+1]]));
  const Y=d3.range(5).map(j=>d3.scaleLinear(dom(first+j),[ys[j+1],ys[j]]));
  let ci=0;
  for(let j=0;j<5;j++)for(let i=0;i<5;i++){
    const l=xs[i],r=xs[i+1],t=ys[j],b=ys[j+1],w=r-l,h=b-t,id="cl"+(clipId++);
    g.append("clipPath").attr("id",id).append("rect").attr("x",l).attr("y",t).attr("width",w).attr("height",h);
    const c=g.append("g").attr("clip-path",`url(#${id})`);
    if(i===j){
      const n=first+i+1,H=d3.scaleLinear([0,100],[b-.037*h,t+.037*h]),sx=X[i];
      const st=histStart[n-1],sp=histStep[n-1];
      c.selectAll(".b").data(window["histV"+n]).join("rect").attr("x",(d,k)=>sx(st+k*sp)).attr("width",sx(st+sp)-sx(st)).attr("y",d=>H(d)).attr("height",d=>H(0)-H(d)).attr("fill","#D3D3D3").attr("stroke","#000").attr("stroke-width",1.1);
      const rug=new Set();
      for(let o=0;o<5;o++){if(o===i)continue;const nm=o<i?`ptsV${n}V${first+o+1}`:`ptsV${first+o+1}V${n}`;window[nm].forEach(q=>rug.add(o<i?q[1]:q[0]))}
      c.selectAll(".r").data([...rug]).join("line").attr("x1",d=>sx(d)).attr("x2",d=>sx(d)).attr("y1",b).attr("y2",b-5).attr("stroke","#000").attr("stroke-width",1);
      c.append("path").datum(window["densV"+n]).attr("d",d3.line().x(d=>sx(d[0])).y(d=>H(d[1])).curve(d3.curveCatmullRom.alpha(.5))).attr("fill","none").attr("stroke","#f00").attr("stroke-width",1.3);
      g.append("text").attr("x",(l+r)/2).attr("y",t+.187*h+10).attr("text-anchor","middle").attr("font-size",29).text("V"+n);
    }else if(j>i){
      const nm=`V${first+j+1}V${first+i+1}`,sx=X[i],sy=Y[j];
      c.selectAll(".p").data(window["pts"+nm]).join("circle").attr("cx",d=>sx(d[0])).attr("cy",d=>sy(d[1])).attr("r",3.1).attr("fill","none").attr("stroke","#000").attr("stroke-width",1.1);
      c.append("path").datum(window["loess"+nm]).attr("d",d3.line().x(d=>sx(d[0])).y(d=>sy(d[1])).curve(d3.curveCatmullRom.alpha(.5))).attr("fill","none").attr("stroke",STAR).attr("stroke-width",1);
    }else{
      const txt=window["corrPanel"+(p+1)][ci],sig=window["starsPanel"+(p+1)][ci];ci++;
      const len=textLen(txt),F0=.8*w/len*100,r0=Math.abs(+txt),F=(40+130*r0)/len*100;
      c.append("text").attr("x",(l+r)/2).attr("y",(t+b)/2+.36*F+1).attr("text-anchor","middle").attr("font-size",F).text(txt);
      if(sig){const cy=t+.215*h,base=sig==="."?cy+.05*F0:cy+.505*F0;
        over.push([l+.8*w,base,F0,sig]);}
    }
    g.append("rect").attr("x",l).attr("y",t).attr("width",w).attr("height",h).attr("fill","none").attr("stroke","#000").attr("stroke-width",1.3);
  }
  for(let i=0;i<5;i++){
    const n=first+i+1,tk=window["ticksV"+n],lab=window["labelsV"+n];
    const ax=(i%2?d3.axisTop(X[i]):d3.axisBottom(X[i])).tickValues(tk).tickSize(9).tickSizeOuter(0).tickPadding(i%2?12:13).tickFormat(d3.format("d"));
    const a=g.append("g").attr("transform",`translate(0,${i%2?ys[0]:ys[5]})`).call(ax);
    a.select(".domain").remove();a.selectAll("text").attr("font-size",16).attr("font-family",null);
    const ay=(i%2?d3.axisLeft(Y[i]):d3.axisRight(Y[i])).tickValues(tk).tickSize(9).tickSizeOuter(0).tickFormat(d=>lab.includes(d)?d:"");
    const b=g.append("g").attr("transform",`translate(${i%2?xs[0]:xs[5]},0)`).call(ay);
    b.select(".domain").remove();
    b.selectAll("text").attr("font-size",16).attr("font-family",null).attr("x",null).attr("dy",".36em").attr("text-anchor","middle").attr("transform",`translate(${i%2?-26.6:27},0) rotate(-90)`);
  }
  over.forEach(s=>g.append("text").attr("x",s[0]).attr("y",s[1]).attr("text-anchor","middle").attr("font-size",s[2]).style("fill",STAR).text(s[3]));
});
measure.remove();
</script></body></html>
